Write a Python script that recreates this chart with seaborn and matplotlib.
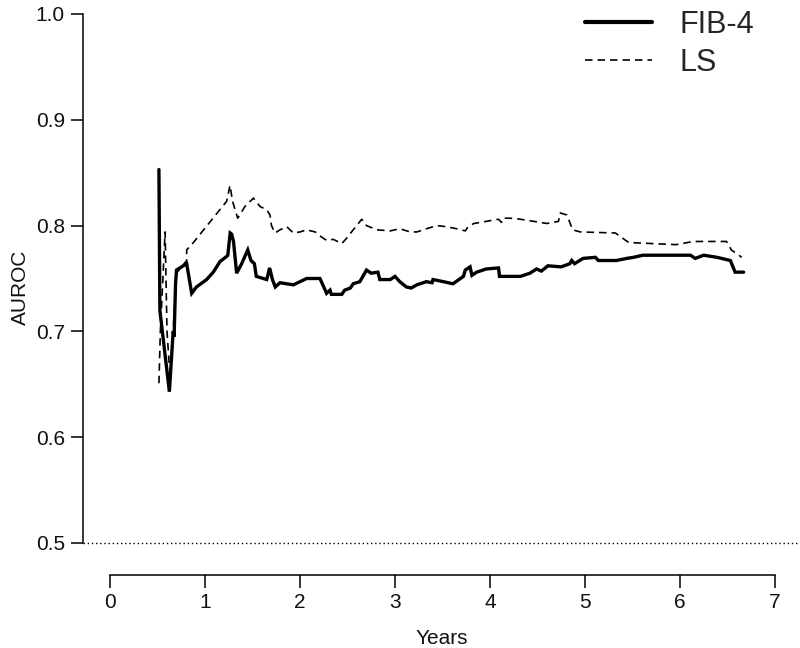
import matplotlib
matplotlib.use("Agg")
import matplotlib.pyplot as plt
import seaborn as sns
import pandas as pd
from matplotlib.lines import Line2D

# ---- data ----
fib4_years = [0.515, 0.525, 0.625, 0.665, 0.675, 0.69, 0.70, 0.807, 0.86, 0.91,
              1.017, 1.087, 1.158, 1.23, 1.24, 1.265, 1.28, 1.30, 1.333, 1.386,
              1.45, 1.484, 1.52, 1.54, 1.65, 1.68, 1.71, 1.74, 1.79, 1.93,
              2.07, 2.21, 2.28, 2.316, 2.33, 2.44, 2.47, 2.53, 2.56, 2.63,
              2.70, 2.75, 2.82, 2.84, 2.95, 3.00, 3.05, 3.12, 3.17, 3.23,
              3.33, 3.39, 3.40, 3.51, 3.61, 3.72, 3.74, 3.79, 3.81, 3.86,
              3.96, 4.09, 4.10, 4.32, 4.42, 4.49, 4.54, 4.61, 4.75, 4.84,
              4.86, 4.89, 4.98, 5.11, 5.14, 5.33, 5.44, 5.51, 5.61, 6.11,
              6.16, 6.25, 6.39, 6.53, 6.58, 6.67]
fib4_auroc = [0.853, 0.720, 0.643, 0.700, 0.695, 0.745, 0.758, 0.764, 0.736, 0.742,
              0.749, 0.756, 0.766, 0.771, 0.772, 0.793, 0.792, 0.785, 0.755, 0.764,
              0.777, 0.767, 0.764, 0.752, 0.749, 0.760, 0.749, 0.742, 0.746, 0.744,
              0.750, 0.750, 0.736, 0.739, 0.735, 0.735, 0.739, 0.741, 0.745, 0.747,
              0.758, 0.755, 0.756, 0.749, 0.749, 0.752, 0.747, 0.742, 0.741, 0.744,
              0.747, 0.746, 0.749, 0.747, 0.745, 0.752, 0.758, 0.761, 0.753, 0.756,
              0.759, 0.760, 0.752, 0.752, 0.755, 0.759, 0.757, 0.762, 0.761, 0.764,
              0.767, 0.764, 0.769, 0.770, 0.767, 0.767, 0.769, 0.770, 0.772, 0.772,
              0.769, 0.772, 0.770, 0.767, 0.756, 0.756]

ls_years = [0.515, 0.53, 0.58, 0.60, 0.625, 0.64, 0.69, 0.70, 0.807, 0.807,
            0.86, 1.228, 1.263, 1.29, 1.344, 1.42, 1.51, 1.526, 1.58, 1.65,
            1.684, 1.70, 1.737, 1.79, 1.86, 1.93, 2.00, 2.07, 2.16, 2.23,
            2.28, 2.35, 2.44, 2.49, 2.56, 2.65, 2.70, 2.81, 2.95, 3.05,
            3.16, 3.23, 3.33, 3.44, 3.54, 3.65, 3.74, 3.77, 3.83, 3.96,
            4.09, 4.12, 4.14, 4.21, 4.32, 4.46, 4.60, 4.72, 4.74, 4.81,
            4.87, 4.95, 5.32, 5.46, 5.96, 6.14, 6.49, 6.54, 6.65]
ls_auroc = [0.651, 0.700, 0.794, 0.700, 0.667, 0.662, 0.740, 0.755, 0.767, 0.777,
            0.782, 0.823, 0.838, 0.823, 0.807, 0.818, 0.826, 0.824, 0.818, 0.815,
            0.810, 0.800, 0.793, 0.796, 0.799, 0.793, 0.794, 0.796, 0.794, 0.789,
            0.786, 0.787, 0.783, 0.788, 0.796, 0.806, 0.800, 0.796, 0.795, 0.797,
            0.794, 0.794, 0.797, 0.800, 0.799, 0.797, 0.795, 0.799, 0.802, 0.804,
            0.806, 0.803, 0.807, 0.807, 0.806, 0.804, 0.802, 0.804, 0.812, 0.810,
            0.796, 0.794, 0.793, 0.784, 0.782, 0.785, 0.785, 0.777, 0.770]

series_labels = ["FIB-4", "LS"]
x_ticks = [0, 1, 2, 3, 4, 5, 6, 7]
y_ticks = [0.5, 0.6, 0.7, 0.8, 0.9, 1.0]
x_label = "Years"
y_label = "AUROC"
reference_auroc = 0.5

# ---- style ----
sns.set_style("ticks")
plt.rcParams["font.family"] = ["Liberation Sans", "DejaVu Sans"]

fig = plt.figure(figsize=(8.0, 6.48), dpi=100)
ax = fig.add_axes([83 / 800, 73 / 648, (800 - 83) / 800, 575 / 648])

df_fib = pd.DataFrame({"Years": fib4_years, "AUROC": fib4_auroc})
df_ls = pd.DataFrame({"Years": ls_years, "AUROC": ls_auroc})

dash = (0, (4.5, 3))
sns.lineplot(data=df_ls, x="Years", y="AUROC", ax=ax, estimator=None, sort=False,
             color="black", linewidth=1.2, linestyle=dash)
sns.lineplot(data=df_fib, x="Years", y="AUROC", ax=ax, estimator=None, sort=False,
             color="black", linewidth=2.4, solid_joinstyle="miter")

ax.axhline(reference_auroc, xmin=0, xmax=1, color="black", linewidth=1.0,
           linestyle=(0, (1, 2)))

ax.set_xlim(-0.2842, 7.263)
ax.set_ylim(0.46975, 1.01323)
ax.set_xticks(x_ticks)
ax.set_xticklabels([str(t) for t in x_ticks])
ax.set_yticks(y_ticks)
ax.set_yticklabels([f"{t:.1f}" for t in y_ticks])

for s in ["top", "right"]:
    ax.spines[s].set_visible(False)
ax.spines["left"].set_bounds(0.5, 1.0)
ax.spines["bottom"].set_bounds(0, 7)
for s in ["left", "bottom"]:
    ax.spines[s].set_linewidth(1.1)
    ax.spines[s].set_color("black")

ax.tick_params(axis="both", direction="out", length=9, width=1.1, color="black",
               labelsize=15, labelcolor="#111111", pad=4)

ax.set_xlabel(x_label, fontsize=15, color="#111111", labelpad=12)
ax.set_ylabel(y_label, fontsize=15, color="#111111", labelpad=4)

handles = [Line2D([], [], color="black", linewidth=3.0),
           Line2D([], [], color="black", linewidth=1.2, linestyle=dash)]
fig.legend(handles, series_labels, loc="upper left",
           bbox_to_anchor=(585 / 800, 1 - 10 / 648), bbox_transform=fig.transFigure,
           frameon=False, fontsize=22, handlelength=2.2, handletextpad=0.9,
           labelspacing=0.25, borderpad=0, borderaxespad=0)

fig.savefig("out.png", dpi=100)
